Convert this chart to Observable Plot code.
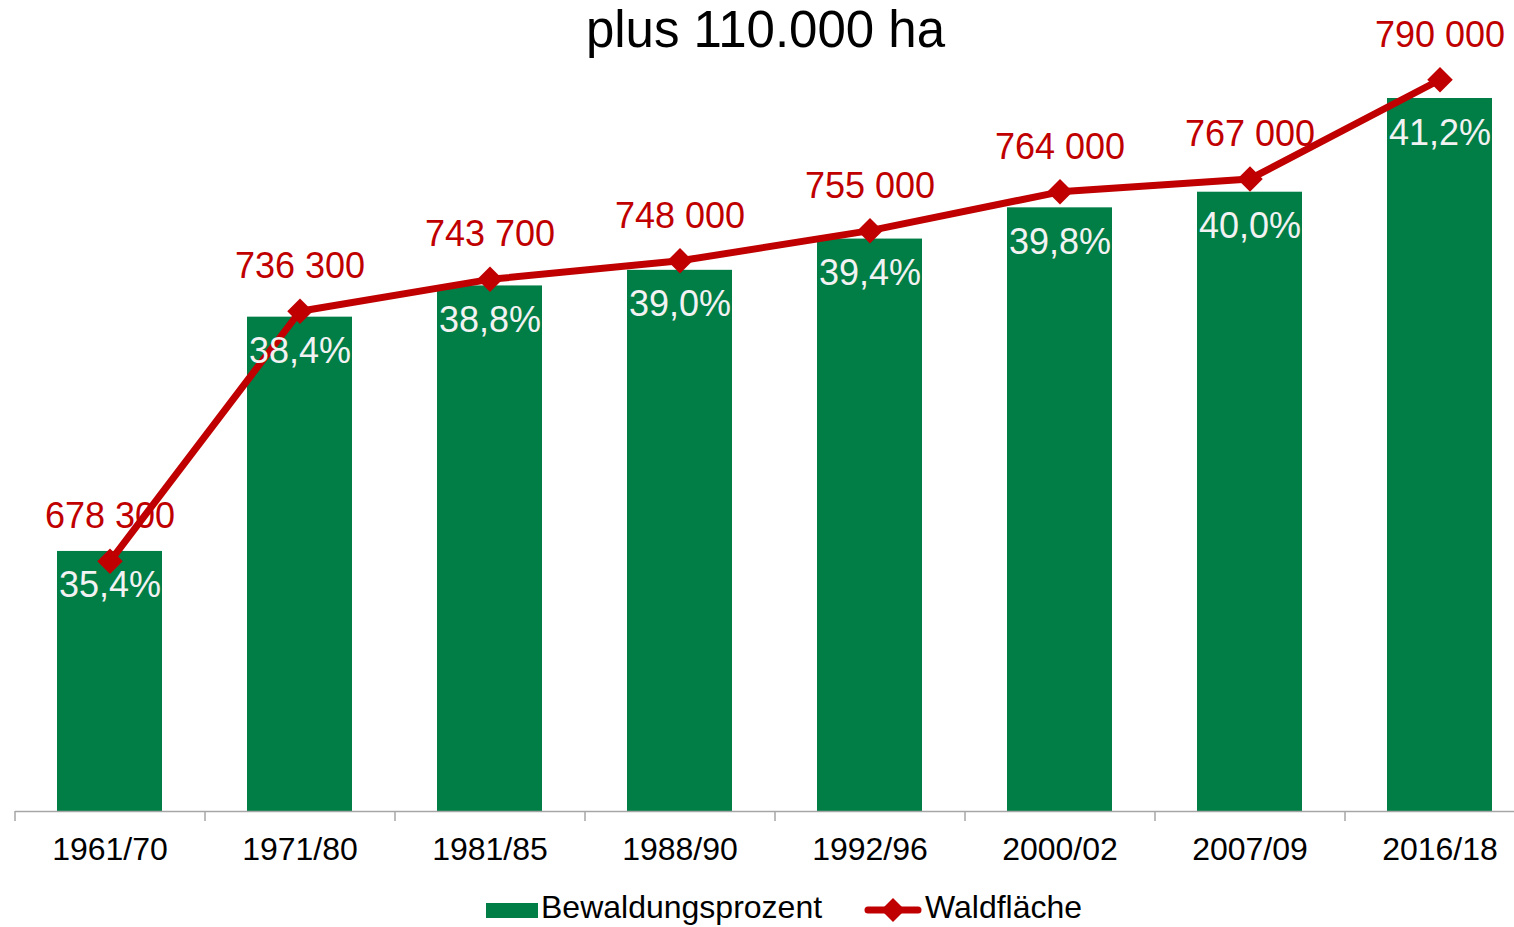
<!DOCTYPE html>
<html>
<head>
<meta charset="utf-8">
<script src="https://cdn.jsdelivr.net/npm/d3@7"></script>
<script src="https://cdn.jsdelivr.net/npm/@observablehq/plot@0.6"></script>
<style>
  html, body { margin: 0; padding: 0; background: #fff; overflow: hidden; }
  #wrap { position: relative; width: 1514px; height: 927px; overflow: hidden; font-family: "Liberation Sans", Arial, sans-serif; }
  #title { position: absolute; left: 0; top: 0; width: 1514px; height: 60px; line-height: 60px; font-size: 51px; text-align: center; padding-left: 17px; box-sizing: border-box; color: #000; white-space: nowrap; z-index: 2; }
  #chart { position: absolute; left: 0; top: 0; z-index: 1; }
  .lg { position: absolute; font-size: 32px; line-height: 32px; color: #000; white-space: nowrap; }
</style>
</head>
<body>
<div id="wrap">
  <div id="chart"></div>
  <div id="title"></div>
  <div id="legend"></div>
</div>
<script>
// ---- data ----
const titleText = "plus 110.000 ha";
const periods = ["1961/70", "1971/80", "1981/85", "1988/90", "1992/96", "2000/02", "2007/09", "2016/18"];
const bewaldungsprozent = [35.4, 38.4, 38.8, 39.0, 39.4, 39.8, 40.0, 41.2];
const waldflaeche = [678300, 736300, 743700, 748000, 755000, 764000, 767000, 790000];
const seriesNames = ["Bewaldungsprozent", "Waldfläche"];

// ---- styles ----
const green = "#007e46";
const red = "#c00000";
const axisGrey = "#a6a6a6";

const rows = periods.map((p, i) => ({period: p, pct: bewaldungsprozent[i], ha: waldflaeche[i]}));

// primary axis (percent) and secondary axis (hectares) mapped onto it
const pctBase = 32.07;
const pctTop = 41.2;
const haToPct = d3.scaleLinear([620260, 790000], [32.07, 41.44]);

const loc = d3.formatLocale({decimal: ",", thousands: " ", grouping: [3], currency: ["", ""]});
const fmtHa = loc.format(",");
const fmtPct = (v) => loc.format(".1f")(v) + "%";

document.getElementById("title").textContent = titleText;

const chart = Plot.plot({
  width: 1514,
  height: 880,
  marginTop: 98,
  marginLeft: 15,
  marginRight: 0,
  marginBottom: 69,
  style: {fontFamily: '"Liberation Sans", Arial, sans-serif', background: "transparent"},
  x: {domain: periods, range: [15, 1535], paddingInner: 0.445, paddingOuter: 0.2225, align: 0.5},
  y: {domain: [pctBase, pctTop], range: [811, 98], axis: null},
  marks: [
    Plot.barY(rows, {x: "period", y1: pctBase, y2: "pct", fill: green}),
    Plot.ruleY([pctBase], {stroke: axisGrey, strokeWidth: 1.5}),
    Plot.ruleX(periods, {x: (d) => d, y1: pctBase, y2: pctBase, insetBottom: -10, dx: -95, stroke: axisGrey, strokeWidth: 1.5}),
    Plot.axisX({tickSize: 0, tickPadding: 26, fontSize: 32, fill: "#000", label: null}),
    Plot.line(rows, {x: "period", y: (d) => haToPct(d.ha), stroke: red, strokeWidth: 7}),
    Plot.dot(rows, {x: "period", y: (d) => haToPct(d.ha), symbol: "diamond2", r: 11.5, fill: red, stroke: null}),
    Plot.text(rows, {x: "period", y: "pct", text: (d) => fmtPct(d.pct), dy: 46, lineAnchor: "bottom", fill: "#f2f2f2", fontSize: 36}),
    Plot.text(rows, {x: "period", y: (d) => haToPct(d.ha), text: (d) => fmtHa(d.ha), dy: -33, lineAnchor: "bottom", fill: red, fontSize: 36})
  ]
});
document.getElementById("chart").appendChild(chart);

// ---- legend ----
const legend = document.getElementById("legend");
const sw = document.createElement("div");
sw.style.cssText = `position:absolute;left:486px;top:903px;width:52px;height:15px;background:${green};`;
legend.appendChild(sw);
const t1 = document.createElement("div");
t1.className = "lg";
t1.style.left = "541px"; t1.style.top = "891px";
t1.textContent = seriesNames[0];
legend.appendChild(t1);
const ns = "http://www.w3.org/2000/svg";
const ls = document.createElementNS(ns, "svg");
ls.setAttribute("width", "58"); ls.setAttribute("height", "26");
ls.style.cssText = "position:absolute;left:864px;top:897px;";
const ln = document.createElementNS(ns, "line");
ln.setAttribute("x1", "4"); ln.setAttribute("x2", "54"); ln.setAttribute("y1", "13"); ln.setAttribute("y2", "13");
ln.setAttribute("stroke", red); ln.setAttribute("stroke-width", "7"); ln.setAttribute("stroke-linecap", "round");
ls.appendChild(ln);
const dm = document.createElementNS(ns, "path");
dm.setAttribute("d", "M29,1L41,13L29,25L17,13Z");
dm.setAttribute("fill", red);
ls.appendChild(dm);
legend.appendChild(ls);
const t2 = document.createElement("div");
t2.className = "lg";
t2.style.left = "925px"; t2.style.top = "891px";
t2.textContent = seriesNames[1];
legend.appendChild(t2);
</script>
</body>
</html>
